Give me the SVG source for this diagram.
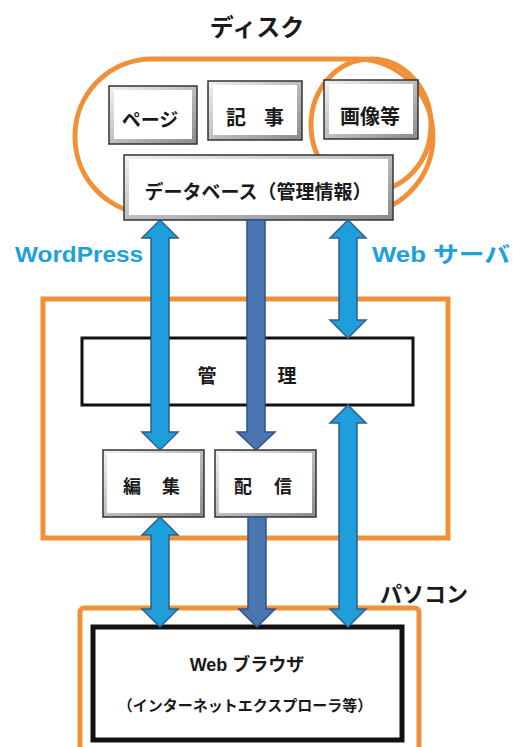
<svg xmlns="http://www.w3.org/2000/svg" width="517" height="747" viewBox="0 0 517 747">
<defs>
<linearGradient id="bev" x1="0" y1="0" x2="1" y2="1">
<stop offset="0" stop-color="#f2f2f2"/>
<stop offset="1" stop-color="#8a8a8a"/>
</linearGradient>
<style>
.t{font-family:"Liberation Sans","Noto Sans CJK JP",sans-serif;font-weight:bold;fill:#1a1a1a;text-anchor:middle;dominant-baseline:central}
.blue{fill:#1da0dc}
.orange{fill:none;stroke:#f0913a;stroke-width:5}
.bo{fill:url(#bev);stroke:#333;stroke-width:1.5}
.bi{fill:#fff;stroke:none}
.ab{fill:#1e9fdb;stroke:#2e5f8f;stroke-width:1.5;stroke-linejoin:miter}
.ad{fill:#4a76b0;stroke:#2f528f;stroke-width:1.5}
</style>
</defs>
<rect width="517" height="747" fill="#fff"/>
<text class="t" x="257" y="27" font-size="24">ディスク</text>
<g id="disk">
<rect class="orange" x="75" y="59" width="358" height="155" rx="77" ry="77"/>
<ellipse class="orange" cx="371" cy="125" rx="60" ry="66"/>
</g>
<g id="page"><rect class="bo" x="109" y="86" width="88" height="58"/><rect class="bi" x="114" y="90" width="78" height="49"/><text class="t" x="150" y="120" font-size="19">ページ</text></g>
<g id="kiji"><rect class="bo" x="208" y="81" width="94" height="59"/><rect class="bi" x="213" y="85" width="84" height="50"/><text class="t" x="236" y="118" font-size="20">記</text><text class="t" x="274" y="118" font-size="20">事</text></g>
<g id="gazo"><rect class="bo" x="324" y="80" width="94" height="59"/><rect class="bi" x="329" y="84" width="84" height="50"/><text class="t" x="370" y="117" font-size="20">画像等</text></g>
<g id="db"><rect class="bo" x="124" y="155" width="269" height="65"/><rect class="bi" x="129" y="159" width="259" height="56"/><text class="t" x="258" y="192" font-size="19">データベース（管理情報）</text></g>
<text class="t blue" x="79" y="254" font-size="22" textLength="128" lengthAdjust="spacingAndGlyphs">WordPress</text>
<text class="t blue" x="441" y="254" font-size="22" textLength="138" lengthAdjust="spacingAndGlyphs">Web サーバ</text>
<g id="server"><rect class="orange" x="43" y="299" width="405" height="239" stroke-width="6"/></g>
<g id="kanri"><rect x="82" y="338" width="331" height="67" fill="#fff" stroke="#111" stroke-width="3"/><text class="t" x="207" y="376" font-size="19">管</text><text class="t" x="287" y="376" font-size="19">理</text></g>
<g id="henshu"><rect class="bo" x="103" y="450" width="101" height="67" stroke="#555"/><rect class="bi" x="107" y="453" width="93" height="60"/><text class="t" x="132" y="487" font-size="18">編</text><text class="t" x="171" y="487" font-size="18">集</text></g>
<g id="haishin"><rect class="bo" x="215" y="450" width="101" height="67" stroke="#555"/><rect class="bi" x="219" y="453" width="93" height="60"/><text class="t" x="243" y="487" font-size="18">配</text><text class="t" x="283" y="487" font-size="18">信</text></g>
<text class="t" x="424" y="594" font-size="22">パソコン</text>
<g id="pc"><rect class="orange" x="80" y="608" width="339" height="160" rx="4" stroke-width="6"/>
<rect x="93" y="627" width="309" height="113" fill="#fff" stroke="#111" stroke-width="5"/>
<text class="t" x="247" y="665" font-size="18">Web ブラウザ</text>
<text class="t" x="245" y="705" font-size="15">（インターネットエクスプローラ等）</text></g>
<g id="connectors">
<path class="ab" d="M160,220 L178,238 L169,238 L169,432 L178,432 L160,450 L142,432 L151,432 L151,238 L142,238 Z"/>
<path class="ad" d="M247,220 L265,220 L265,432 L275,432 L256,450 L237,432 L247,432 Z"/>
<path class="ab" d="M348,220 L366,238 L357,238 L357,320 L366,320 L348,338 L330,320 L339,320 L339,238 L330,238 Z"/>
<path class="ab" d="M348,405 L366,423 L357,423 L357,609 L366,609 L348,627 L330,609 L339,609 L339,423 L330,423 Z"/>
<path class="ab" d="M160,517 L178,535 L169,535 L169,609 L178,609 L160,627 L142,609 L151,609 L151,535 L142,535 Z"/>
<path class="ad" d="M248,517 L266,517 L266,609 L275,609 L257,627 L239,609 L248,609 Z"/>
</g>
</svg>
